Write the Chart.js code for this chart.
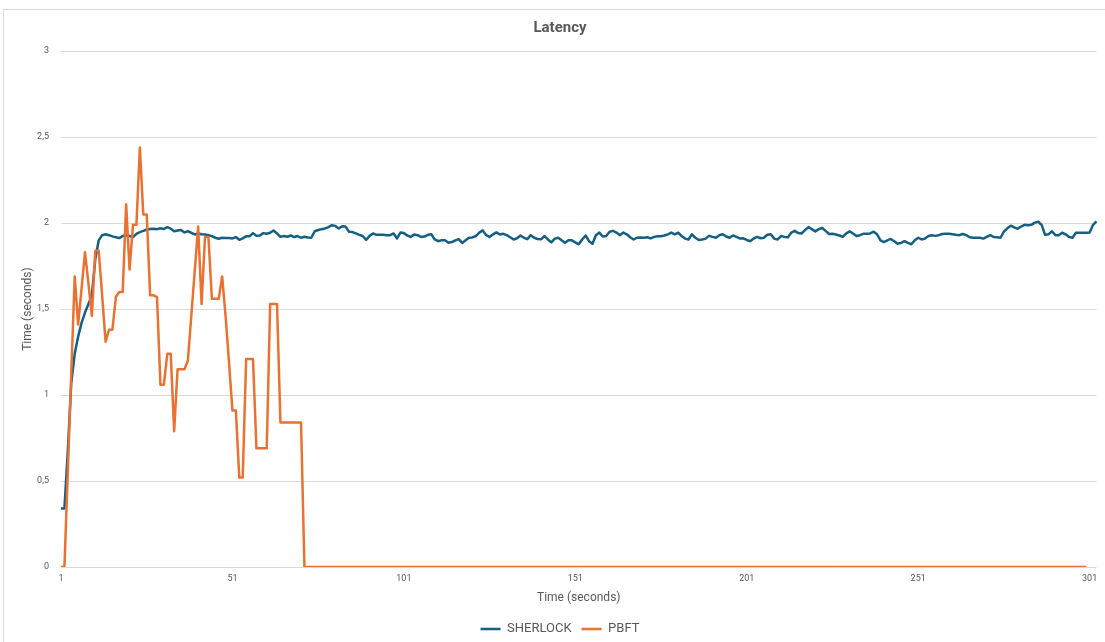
<!DOCTYPE html>
<html>
<head>
<meta charset="utf-8">
<title>Latency</title>
<script src="https://cdn.jsdelivr.net/npm/chart.js@4/dist/chart.umd.min.js"></script>
<style>
  html, body { margin: 0; padding: 0; background: #ffffff; overflow: hidden; width: 1105px; height: 642px; }
  #frame { position: absolute; left: 3px; top: 9px; width: 1300px; height: 800px;
           border-left: 1px solid #d9d9d9; border-top: 1px solid #d9d9d9; }
  #chart { position: absolute; left: 0; top: 0; }
</style>
</head>
<body>
<div id="frame"></div>
<canvas id="chart" width="1120" height="650"></canvas>
<script>
// Elapsed time in seconds (one sample per second)
const seconds = Array.from({ length: 303 }, (_, i) => i + 1);
const labelEvery = 50;

// Y axis ticks
const yTicks = { min: 0, max: 3, step: 0.5 };

// Latency per second, SHERLOCK
const sherlock = [
  0.34, 0.34, 0.68, 1.07, 1.24, 1.34, 1.42, 1.48, 1.53, 1.58,
  1.79, 1.9, 1.93, 1.935, 1.93, 1.923, 1.918, 1.913, 1.925, 1.93,
  1.925, 1.918, 1.938, 1.948, 1.955, 1.963, 1.966, 1.967, 1.965, 1.97,
  1.966, 1.977, 1.968, 1.953, 1.957, 1.96, 1.946, 1.953, 1.944, 1.934,
  1.94, 1.935, 1.934, 1.93, 1.924, 1.915, 1.909, 1.915, 1.913, 1.913,
  1.911, 1.919, 1.903, 1.911, 1.923, 1.923, 1.942, 1.926, 1.928, 1.942,
  1.938, 1.944, 1.957, 1.94, 1.92, 1.925, 1.921, 1.928, 1.919, 1.925,
  1.915, 1.921, 1.917, 1.915, 1.953, 1.96, 1.965, 1.969, 1.977, 1.988,
  1.984, 1.969, 1.982, 1.98, 1.95, 1.948, 1.94, 1.932, 1.925, 1.903,
  1.926, 1.94, 1.932, 1.932, 1.932, 1.93, 1.93, 1.94, 1.911, 1.945,
  1.942, 1.928, 1.92, 1.934, 1.93, 1.92, 1.922, 1.932, 1.935, 1.905,
  1.895, 1.901, 1.9, 1.886, 1.89, 1.9, 1.907, 1.885, 1.9, 1.915,
  1.917, 1.925, 1.945, 1.958, 1.93, 1.92, 1.935, 1.946, 1.934, 1.938,
  1.93, 1.918, 1.905, 1.912, 1.928, 1.915, 1.907, 1.93, 1.915, 1.908,
  1.906, 1.925, 1.905, 1.888, 1.91, 1.915, 1.9, 1.886, 1.9, 1.9,
  1.888, 1.877, 1.905, 1.928, 1.895, 1.88, 1.93, 1.945, 1.922, 1.925,
  1.95, 1.955, 1.945, 1.93, 1.945, 1.935, 1.918, 1.905, 1.915, 1.917,
  1.915, 1.918, 1.911, 1.92, 1.924, 1.924, 1.928, 1.935, 1.945, 1.935,
  1.944, 1.925, 1.91, 1.905, 1.935, 1.915, 1.902, 1.905, 1.91, 1.926,
  1.92, 1.915, 1.93, 1.935, 1.922, 1.915, 1.928, 1.92, 1.911, 1.912,
  1.902, 1.895, 1.91, 1.92, 1.912, 1.915, 1.932, 1.935, 1.91, 1.905,
  1.925, 1.92, 1.918, 1.945, 1.955, 1.942, 1.94, 1.96, 1.977, 1.965,
  1.952, 1.965, 1.972, 1.955, 1.937, 1.938, 1.934, 1.928, 1.92, 1.94,
  1.952, 1.94, 1.925, 1.93, 1.938, 1.938, 1.94, 1.95, 1.935, 1.9,
  1.89, 1.9, 1.908, 1.895, 1.88, 1.885, 1.895, 1.885, 1.877, 1.9,
  1.915, 1.905, 1.91, 1.925, 1.93, 1.926, 1.93, 1.937, 1.938, 1.938,
  1.935, 1.932, 1.93, 1.937, 1.93, 1.918, 1.915, 1.915, 1.915, 1.91,
  1.92, 1.93, 1.92, 1.918, 1.915, 1.95, 1.97, 1.985, 1.975, 1.967,
  1.98, 1.99, 1.988, 1.99, 2.003, 2.008, 1.99, 1.932, 1.935, 1.953,
  1.93, 1.93, 1.944, 1.935, 1.92, 1.915, 1.944, 1.944, 1.944, 1.944,
  1.946, 1.99, 2.01
];

// Latency per second, PBFT
const pbft = [
  0, 0, 0.56, 1.13, 1.69, 1.41, 1.62, 1.83, 1.65, 1.46,
  1.84, 1.84, 1.58, 1.31, 1.38, 1.38, 1.57, 1.6, 1.6, 2.11,
  1.73, 1.99, 1.99, 2.44, 2.05, 2.05, 1.58, 1.58, 1.57, 1.06,
  1.06, 1.24, 1.24, 0.79, 1.15, 1.15, 1.15, 1.2, 1.46, 1.72,
  1.98, 1.53, 1.92, 1.92, 1.56, 1.56, 1.56, 1.69, 1.46, 1.19,
  0.91, 0.91, 0.52, 0.52, 1.21, 1.21, 1.21, 0.69, 0.69, 0.69,
  0.69, 1.53, 1.53, 1.53, 0.84, 0.84, 0.84, 0.84, 0.84, 0.84,
  0.84, 0, 0, 0, 0, 0, 0, 0, 0, 0,
  0, 0, 0, 0, 0, 0, 0, 0, 0, 0,
  0, 0, 0, 0, 0, 0, 0, 0, 0, 0,
  0, 0, 0, 0, 0, 0, 0, 0, 0, 0,
  0, 0, 0, 0, 0, 0, 0, 0, 0, 0,
  0, 0, 0, 0, 0, 0, 0, 0, 0, 0,
  0, 0, 0, 0, 0, 0, 0, 0, 0, 0,
  0, 0, 0, 0, 0, 0, 0, 0, 0, 0,
  0, 0, 0, 0, 0, 0, 0, 0, 0, 0,
  0, 0, 0, 0, 0, 0, 0, 0, 0, 0,
  0, 0, 0, 0, 0, 0, 0, 0, 0, 0,
  0, 0, 0, 0, 0, 0, 0, 0, 0, 0,
  0, 0, 0, 0, 0, 0, 0, 0, 0, 0,
  0, 0, 0, 0, 0, 0, 0, 0, 0, 0,
  0, 0, 0, 0, 0, 0, 0, 0, 0, 0,
  0, 0, 0, 0, 0, 0, 0, 0, 0, 0,
  0, 0, 0, 0, 0, 0, 0, 0, 0, 0,
  0, 0, 0, 0, 0, 0, 0, 0, 0, 0,
  0, 0, 0, 0, 0, 0, 0, 0, 0, 0,
  0, 0, 0, 0, 0, 0, 0, 0, 0, 0,
  0, 0, 0, 0, 0, 0, 0, 0, 0, 0,
  0, 0, 0, 0, 0, 0, 0, 0, 0, 0,
  0, 0, 0, 0, 0, 0, 0, 0, 0, 0
];

const GRID = '#d9d9d9';
const TEXT = '#595959';

Chart.defaults.font.family = 'Roboto, "Open Sans", "Liberation Sans", sans-serif';
Chart.defaults.color = TEXT;

new Chart(document.getElementById('chart'), {
  type: 'line',
  data: {
    labels: seconds,
    datasets: [
      {
        label: 'SHERLOCK',
        data: sherlock,
        borderColor: '#156082',
        backgroundColor: '#156082',
        borderWidth: 2.5,
        pointRadius: 0,
        tension: 0,
        borderJoinStyle: 'round',
        order: 1
      },
      {
        label: 'PBFT',
        data: pbft,
        borderColor: '#e97132',
        backgroundColor: '#e97132',
        borderWidth: 2.5,
        pointRadius: 0,
        tension: 0,
        borderJoinStyle: 'round',
        order: 0
      }
    ]
  },
  options: {
    responsive: false,
    animation: false,
    devicePixelRatio: 1,
    layout: { padding: { left: 23.5, right: 23.5, top: 0, bottom: 4.5 } },
    plugins: {
      tooltip: { enabled: false },
      title: {
        display: true,
        text: 'Latency',
        color: TEXT,
        font: { size: 15, weight: 'bold' },
        padding: { top: 19.6, bottom: 13.6 }
      },
      legend: {
        position: 'bottom',
        labels: {
          usePointStyle: true,
          pointStyle: 'line',
          pointStyleWidth: 20,
          color: TEXT,
          font: { size: 13 },
          padding: 10,
          sort: (a, b) => a.datasetIndex - b.datasetIndex
        }
      }
    },
    scales: {
      x: {
        type: 'category',
        grid: { display: false, drawTicks: false },
        border: { display: false },
        ticks: {
          autoSkip: false,
          maxRotation: 0,
          minRotation: 0,
          padding: 6,
          color: TEXT,
          font: { size: 9 },
          callback: (v, i) => (i % labelEvery === 0 ? String(seconds[i]) : '')
        },
        title: {
          display: true,
          text: 'Time (seconds)',
          color: TEXT,
          font: { size: 12 },
          padding: { top: 1, bottom: 7.3 }
        }
      },
      y: {
        min: yTicks.min,
        max: yTicks.max,
        grid: { color: GRID, lineWidth: 1, drawTicks: false },
        border: { display: false },
        ticks: {
          stepSize: yTicks.step,
          padding: 12,
          color: TEXT,
          font: { size: 9 },
          callback: v => String(v).replace('.', ',')
        },
        title: {
          display: true,
          text: 'Time (seconds)',
          color: TEXT,
          font: { size: 12, lineHeight: 0.75 },
          padding: { top: 0, bottom: 0 }
        },
        afterFit: scale => { scale.width = 37.5; }
      }
    }
  }
});
</script>
</body>
</html>
